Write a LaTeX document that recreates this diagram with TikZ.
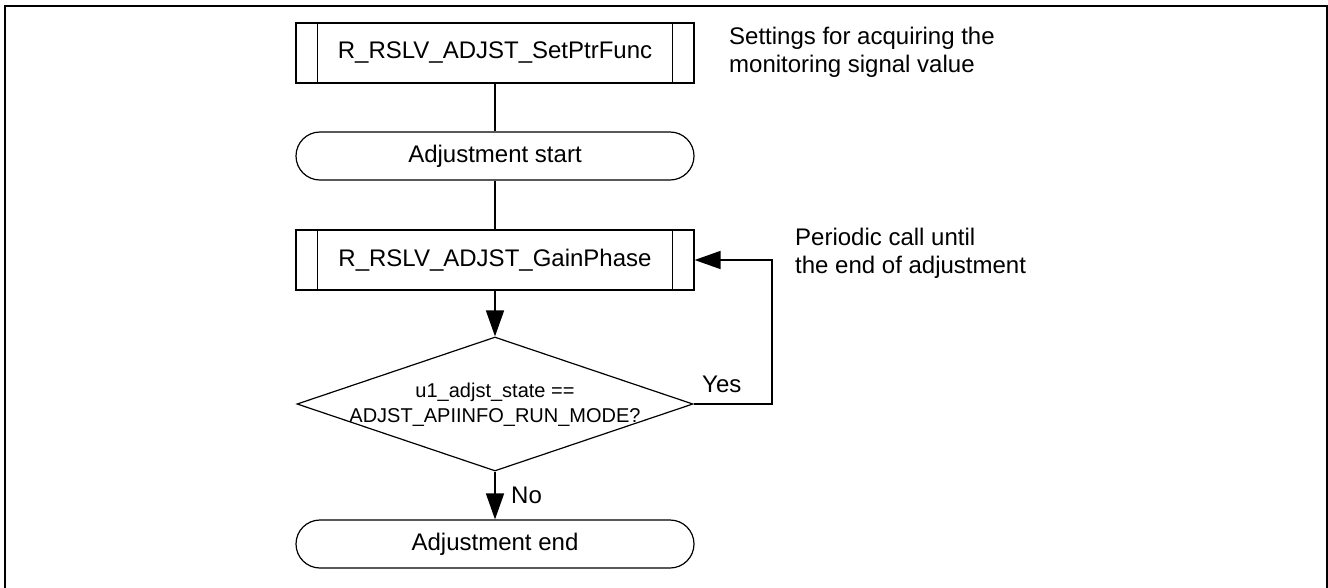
\documentclass[tikz,border=0pt]{standalone}
\usepackage{fontspec}
\setmainfont{Liberation Sans}
\usetikzlibrary{shapes.geometric,arrows.meta}
\begin{document}
\begin{tikzpicture}[x=1pt,y=-1pt,
  bigfont/.style={font=\fontsize{24}{28}\selectfont},
  proc/.style={draw, line width=1.2pt, minimum width=398pt, minimum height=60pt, inner sep=0pt, bigfont},
  term/.style={draw, line width=1.2pt, rounded corners=24pt, minimum width=398pt, minimum height=48pt, inner sep=0pt, bigfont},
  decis/.style={draw, diamond, line width=1.2pt, minimum width=396pt, minimum height=134pt, inner sep=0pt},
  conn/.style={line width=1.6pt},
  arr/.style={conn, -{Triangle[length=26pt,width=18pt]}},
  lbl/.style={bigfont, inner sep=0pt, align=left}]
\useasboundingbox (0,0) rectangle (1328,587);
\draw[line width=2.5pt] (5,590) -- (5,6) -- (1327,6) -- (1327,590);

\node[proc] (sp) at (495,53) {R\_RSLV\_ADJST\_SetPtrFunc};
\draw[line width=1.2pt] ([xshift=22pt]sp.north west) -- ([xshift=22pt]sp.south west);
\draw[line width=1.2pt] ([xshift=-22pt]sp.north east) -- ([xshift=-22pt]sp.south east);

\node[term] (start) at (495,156) {Adjustment start};

\node[proc] (gp) at (495,260) {R\_RSLV\_ADJST\_GainPhase};
\draw[line width=1.2pt] ([xshift=22pt]gp.north west) -- ([xshift=22pt]gp.south west);
\draw[line width=1.2pt] ([xshift=-22pt]gp.north east) -- ([xshift=-22pt]gp.south east);

\node[decis] (dec) at (495,404) {};
\node[font=\fontsize{20}{25}\selectfont, inner sep=0pt, align=center, anchor=north] (dect) at (495,383) {u1\_adjst\_state ==\\ADJST\_APIINFO\_RUN\_MODE?};

\node[term] (end) at (495,544) {Adjustment end};

\coordinate (yc) at (772,404);

\draw[conn] (sp.south) -- (start.north);
\draw[conn] (start.south) -- (gp.north);
\draw[arr] (gp.south) -- (dec.north);
\draw[arr] (dec.east) -- (yc) |- (gp.east);
\draw[arr] (dec.south) -- (end.north);

\node[lbl, anchor=base west] (yes) at (702,392) {Yes};
\node[lbl, anchor=base west] (no) at (511,503) {No};

\node[lbl, anchor=north west] (note1) at (729,27) {Settings for acquiring the\\monitoring signal value};
\node[lbl, anchor=north west] (note2) at (795,228) {Periodic call until\\the end of adjustment};
\end{tikzpicture}
\end{document}
